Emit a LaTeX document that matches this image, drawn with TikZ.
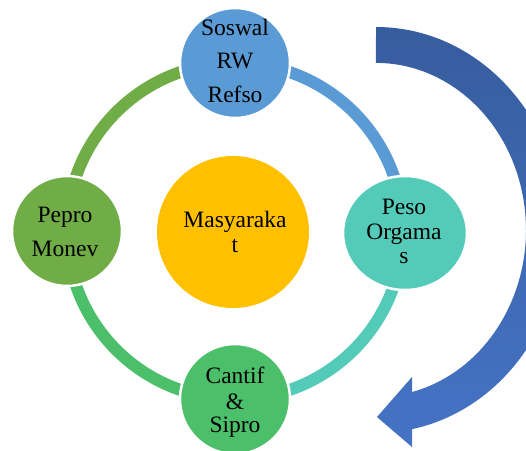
\documentclass[tikz,border=0pt]{standalone}
\usepackage{fontspec}
\setmainfont{Liberation Serif}
\usetikzlibrary{shapes.geometric}
\definecolor{cblue}{HTML}{5B9BD5}
\definecolor{cteal}{HTML}{53CBB8}
\definecolor{cgreen}{HTML}{4BBF6A}
\definecolor{cleaf}{HTML}{70AD47}
\definecolor{corange}{HTML}{FFC000}
\definecolor{adark}{HTML}{365D9E}
\definecolor{alight}{HTML}{4573C5}
\begin{document}
\begin{tikzpicture}[x=1pt,y=-1pt,
  seg/.style={line width=12pt},
  bubble/.style={circle, minimum size=#1, inner sep=0pt, draw=white, line width=2.5pt},
  lbl/.style={anchor=base, inner sep=0pt, font=\fontsize{23.5}{28}\selectfont}]
\useasboundingbox (0,0) rectangle (526,450);
\clip (0,0) rectangle (526,450);
% ring centres
\coordinate (cT) at (235,63);
\coordinate (cR) at (403,231);
\coordinate (cB) at (235,399);
\coordinate (cL) at (67,231);
% ring segments
\draw[seg, cblue]  (cT) arc[start angle=-90, end angle=0,   radius=168];
\draw[seg, cteal]  (cR) arc[start angle=0,   end angle=90,  radius=168];
\draw[seg, cgreen] (cB) arc[start angle=90,  end angle=180, radius=168];
\draw[seg, cleaf]  (cL) arc[start angle=180, end angle=270, radius=168];
% curved arrow
\coordinate (aTail) at (376,27);
\shade[top color=adark, bottom color=alight]
  (aTail) arc[start angle=-90, end angle=78.8, x radius=186, y radius=203]
  -- (412,447) -- (377,417) -- (412,377) -- (412,392)
  arc[start angle=76.1, end angle=-90, x radius=150, y radius=167] -- cycle;
% nodes
\node[bubble=110pt, fill=cblue] (nT) at (cT) {};
\node[ellipse, minimum width=124pt, minimum height=114pt, inner sep=0pt,
      draw=white, line width=2.5pt, fill=cteal] (nR) at (405,233) {};
\node[bubble=110pt, fill=cgreen] (nB) at (cB) {};
\node[bubble=110pt, fill=cleaf] (nL) at (cL) {};
\node[circle, minimum size=152pt, inner sep=0pt, fill=corange] (nC) at (233,232) {};
% labels
\node[lbl] (tT1) at (235,35) {Soswal};
\node[lbl] (tT2) at (235,68) {RW};
\node[lbl] (tT3) at (235,102) {Refso};
\node[lbl] (tL1) at (65,222) {Pepro};
\node[lbl] (tL2) at (65,256) {Monev};
\node[lbl] (tR1) at (404,214) {Peso};
\node[lbl] (tR2) at (404,239) {Orgama};
\node[lbl] (tR3) at (404,263) {s};
\node[lbl] (tB1) at (235,383) {Cantif};
\node[lbl] (tB2) at (235,409) {\&};
\node[lbl] (tB3) at (235,432) {Sipro};
\node[lbl] (tC1) at (235,227) {Masyaraka};
\node[lbl] (tC2) at (235,252) {t};
\end{tikzpicture}
\end{document}
